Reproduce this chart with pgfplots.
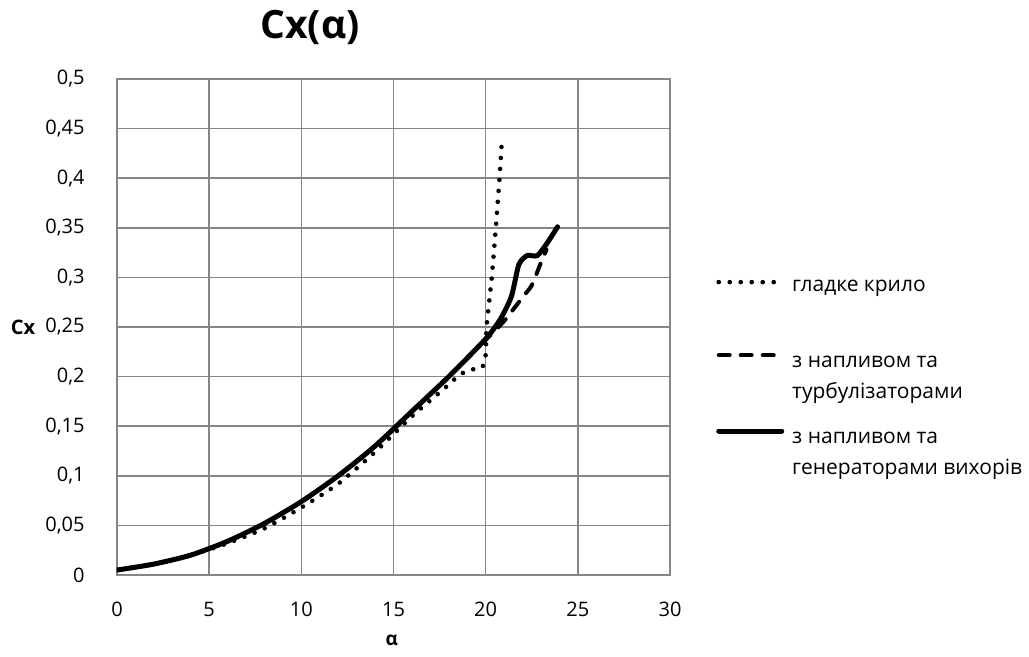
\documentclass[border=0pt]{standalone}
\usepackage{fontspec}
\setmainfont{Open Sans}
\usepackage{pgfplots}
\pgfplotsset{compat=1.18}

\definecolor{gridgray}{RGB}{134,134,134}

\begin{document}
\begin{tikzpicture}
\path[use as bounding box] (-58.5pt,-41pt) rectangle (456pt,287.5pt);
\begin{axis}[
  at={(0pt,0pt)}, anchor=south west,
  scale only axis, width=276.5pt, height=248pt,
  xmin=0, xmax=30, ymin=0, ymax=0.5,
  xtick={0,5,...,30}, ytick={0,0.05,...,0.5},
  grid=major, major grid style={gridgray, line width=0.75pt},
  axis line style={gridgray, line width=0.75pt},
  major tick length=0pt,
  /pgf/number format/assume math mode=true,
  /pgf/number format/use comma,
  yticklabel style={font=\fontsize{10}{12}\selectfont, anchor=east, inner sep=0pt, xshift=-16pt,
    /pgf/number format/fixed, /pgf/number format/precision=2},
  xticklabel style={font=\fontsize{10}{12}\selectfont, anchor=north, inner sep=0pt, yshift=-13.5pt},
  title={\textbf{Cx(α)}},
  title style={font=\fontsize{19.5}{22}\selectfont, at={(axis description cs:0.349,1.08)}, anchor=center},
  xlabel={\textbf{α}}, ylabel={\textbf{Cx}},
  every axis x label/.style={at={(axis description cs:0.497,-0.131)}, anchor=center, font=\fontsize{9.5}{11}\selectfont},
  every axis y label/.style={at={(axis description cs:-0.17,0.50)}, anchor=center, font=\fontsize{10}{12}\selectfont},
  legend style={at={(axis description cs:1.072,0.604)}, anchor=north west, draw=none, fill=none,
    font=\fontsize{10.5}{12}\selectfont, row sep=28pt, column sep=4pt, nodes={inner sep=0pt}},
  legend cell align=left,
  legend image code/.code={\draw[#1] (0pt,0.5ex) -- (31.5pt,0.5ex);},
]
\addplot[black, line width=2.3pt, line cap=round, dash pattern=on 0pt off 5.5pt, smooth, tension=0.4] coordinates {
(0,0.005)(2,0.011)(4,0.020)(6,0.032)(8,0.047)(10,0.068)(12,0.092)(14,0.124)(16,0.160)(17,0.176)
(18,0.192)(18.6,0.202)(19.2,0.207)(19.8,0.209)(20,0.222)(20.05,0.25)(20.33,0.30)(20.55,0.35)(20.75,0.40)(20.88,0.438)};
\addplot[black, line width=2pt, line cap=round, dash pattern=on 5.5pt off 5.5pt, smooth, tension=0.4] coordinates {
(0,0.005)(2,0.011)(4,0.020)(6,0.034)(8,0.052)(10,0.074)(12,0.100)(14,0.130)(16,0.165)(18,0.200)
(20,0.237)(21,0.256)(22,0.280)(22.5,0.292)(23,0.315)(23.3,0.328)};
\addplot[black, line width=2.5pt, line cap=round, smooth, tension=0.4] coordinates {
(0,0.005)(2,0.011)(4,0.020)(6,0.034)(8,0.052)(10,0.074)(12,0.100)(14,0.130)(16,0.165)(18,0.200)
(20,0.238)(20.8,0.258)(21.4,0.281)(21.8,0.313)(22.25,0.322)(22.8,0.322)(23.35,0.335)(23.9,0.351)};
\legend{гладке крило,
  {\begin{tabular}[t]{@{}l@{}}з напливом та\\[3.5pt]турбулізаторами\end{tabular}},
  {\begin{tabular}[t]{@{}l@{}}з напливом та\\[3.5pt]генераторами вихорів\end{tabular}}}
\end{axis}
\end{tikzpicture}
\end{document}
